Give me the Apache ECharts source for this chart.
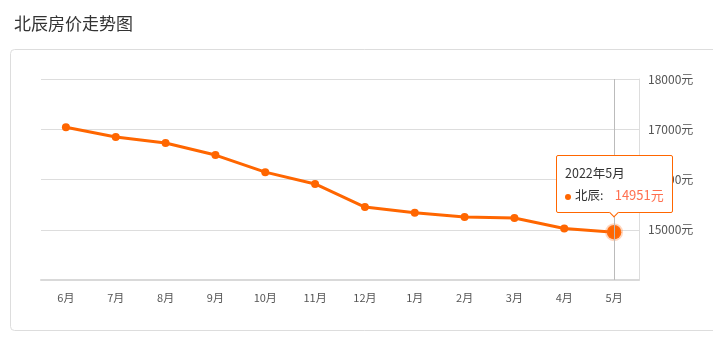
<!DOCTYPE html>
<html>
<head>
<meta charset="utf-8">
<script src="https://cdn.jsdelivr.net/npm/echarts@6/dist/echarts.min.js"></script>
<style>
html,body{margin:0;padding:0;background:#fff;}
#c{width:713px;height:344px;}
</style>
</head>
<body>
<div id="c"></div>
<script>
const title = '北辰房价走势图';
const seriesName = '北辰';
const months = ['2021年6月','2021年7月','2021年8月','2021年9月','2021年10月','2021年11月','2021年12月','2022年1月','2022年2月','2022年3月','2022年4月','2022年5月'];
const prices = [17040, 16846, 16726, 16486, 16146, 15912, 15452, 15340, 15252, 15232, 15026, 14951];
const yTicks = [14000, 15000, 16000, 17000, 18000];
const unit = '元';

const FONT = '"Noto Sans CJK SC", "Noto Sans", sans-serif';
const chart = echarts.init(document.getElementById('c'), null, {renderer: 'canvas'});
const lastIdx = prices.length - 1;

const seriesData = prices.map(function (v, i) {
  if (i !== lastIdx) return v;
  return {
    value: v,
    symbolSize: 14.5,
    itemStyle: {color: '#ff6600', borderColor: 'rgba(255,120,40,0.3)', borderWidth: 3.5}
  };
});

chart.setOption({
  animation: false,
  textStyle: {fontFamily: FONT},
  title: {
    text: title, left: 9, top: 10,
    textStyle: {fontSize: 17, fontWeight: 'normal', color: '#333', fontFamily: FONT}
  },
  graphic: [{
    type: 'rect', z: -10, silent: true,
    shape: {x: 10.5, y: 49.5, width: 740, height: 281, r: 4},
    style: {fill: '#fff', stroke: '#ddd', lineWidth: 1}
  }],
  grid: {left: 41, right: 74, top: 79, bottom: 64},
  tooltip: {
    trigger: 'item',
    alwaysShowContent: true,
    position: 'top',
    backgroundColor: '#fff',
    borderColor: '#ff6600',
    borderWidth: 1,
    padding: [6, 8],
    textStyle: {color: '#333', fontSize: 12.5, fontFamily: FONT},
    extraCssText: 'box-shadow:none;border-radius:2px;line-height:22px;',
    formatter: function (p) {
      return months[p.dataIndex] + '<br/>' +
        '<span style="display:inline-block;width:6px;height:6px;border-radius:3px;background:#ff6600;margin-right:4px;vertical-align:middle;"></span>' +
        seriesName + ':&nbsp;&nbsp;&nbsp;&nbsp;<span style="color:#ff6f4f;font-size:13px;">' + p.value + unit + '</span>';
    }
  },
  xAxis: {
    type: 'category',
    data: months,
    boundaryGap: true,
    axisLine: {lineStyle: {color: '#d9d9d9', width: 2}},
    axisTick: {alignWithLabel: true, length: 5, lineStyle: {color: '#d9d9d9'}},
    axisLabel: {
      color: '#555', fontSize: 11, margin: 12,
      formatter: function (v) { return v.replace(/^\d+年/, ''); }
    },
    axisPointer: {
      show: true, value: lastIdx, status: 'show', triggerTooltip: false,
      type: 'line', label: {show: false},
      lineStyle: {color: '#bbb', width: 1, type: 'solid'}
    }
  },
  yAxis: {
    type: 'value',
    position: 'right',
    min: yTicks[0], max: yTicks[yTicks.length - 1], interval: 1000,
    axisLine: {show: true, lineStyle: {color: '#ddd'}},
    axisTick: {show: false},
    splitLine: {lineStyle: {color: '#ddd'}},
    axisLabel: {
      color: '#555', fontSize: 12, margin: 9, showMinLabel: false,
      formatter: function (v) { return String(v) + unit; }
    }
  },
  series: [{
    name: seriesName,
    type: 'line',
    data: seriesData,
    symbol: 'circle',
    symbolSize: 8,
    lineStyle: {color: '#ff6600', width: 3},
    itemStyle: {color: '#ff6600'},
    emphasis: {scale: false}
  }]
});

chart.dispatchAction({type: 'showTip', seriesIndex: 0, dataIndex: lastIdx});
</script>
</body>
</html>
